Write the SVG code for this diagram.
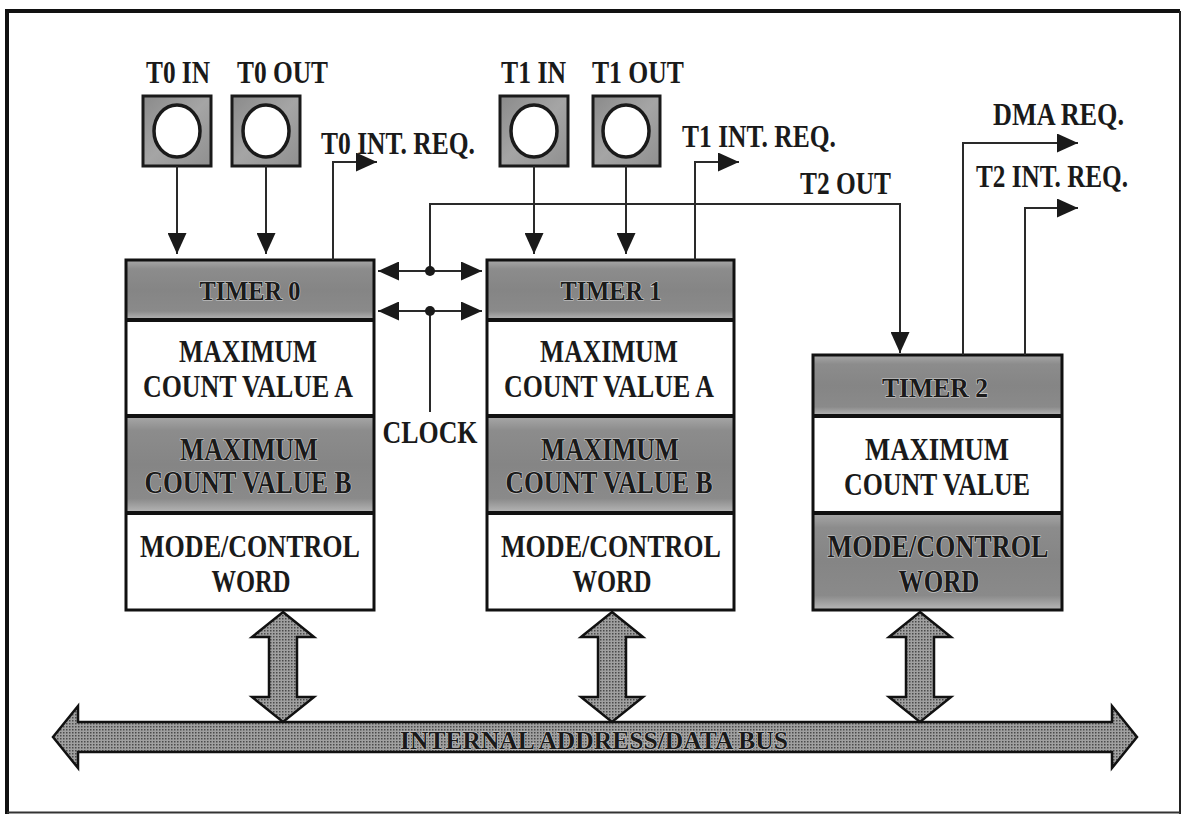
<svg xmlns="http://www.w3.org/2000/svg" width="1183" height="814" viewBox="0 0 1183 814">
<style>
  .t { font-family: "Liberation Serif", "Times New Roman", serif; font-weight: bold; font-size: 31px; fill: #1a1a1a; }
  .hd { font-size: 27px; }
  .sh { stroke: #cfcfcf; stroke-width: 1.2px; paint-order: stroke; }
  .wire { fill: none; stroke: #2a2a2a; stroke-width: 2; }
  .blk { fill: none; stroke: #111; stroke-width: 3; }
  .sep { stroke: #111; stroke-width: 4; }
  .shade { fill: url(#gshade); }
  .white { fill: #ffffff; }
  .pin { fill: url(#gpin); stroke: #1a1a1a; stroke-width: 3; }
  .hole { fill: #ffffff; stroke: #1a1a1a; stroke-width: 3.5; }
  .fat { fill: url(#dots); stroke: #111; stroke-width: 2.5; stroke-linejoin: miter; }
</style>
<defs>
  <linearGradient id="gshade" x1="0" y1="0" x2="0" y2="1">
    <stop offset="0" stop-color="#a8a8a8"/>
    <stop offset="0.15" stop-color="#8c8c8c"/>
    <stop offset="0.5" stop-color="#858585"/>
    <stop offset="0.85" stop-color="#8a8a8a"/>
    <stop offset="1" stop-color="#b8b8b8"/>
  </linearGradient>
  <linearGradient id="gpin" x1="0" y1="0" x2="1" y2="1">
    <stop offset="0" stop-color="#8a8a8a"/>
    <stop offset="0.5" stop-color="#a5a5a5"/>
    <stop offset="1" stop-color="#8f8f8f"/>
  </linearGradient>
  <pattern id="dots" width="3" height="3" patternUnits="userSpaceOnUse">
    <rect width="3" height="3" fill="#a0a0a0"/>
    <rect x="0" y="0" width="1.5" height="1.5" fill="#4a4a4a"/>
  </pattern>
  <marker id="ah" markerUnits="userSpaceOnUse" markerWidth="21" markerHeight="19" refX="21" refY="9.5" orient="auto-start-reverse">
    <path d="M0,0 L21,9.5 L0,19 z" fill="#1a1a1a"/>
  </marker>
</defs>

<rect x="0" y="0" width="1183" height="814" fill="#ffffff"/>

<!-- frame -->
<g id="frame">
  <path d="M7,814 L7,11 L1180,11" fill="none" stroke="#111" stroke-width="4"/>
  <path d="M1180,11 L1180,814" fill="none" stroke="#222" stroke-width="2"/>
  <path d="M7,812.5 L1180,812.5" fill="none" stroke="#333" stroke-width="2"/>
</g>

<!-- pins -->
<g id="pin-t0in">
  <rect class="pin" x="143" y="96" width="68" height="70"/>
  <ellipse class="hole" cx="177" cy="131" rx="23" ry="26"/>
  <text class="t" x="146" y="83" textLength="64" lengthAdjust="spacingAndGlyphs">T0 IN</text>
</g>
<g id="pin-t0out">
  <rect class="pin" x="232" y="96" width="68" height="70"/>
  <ellipse class="hole" cx="266" cy="131" rx="23" ry="26"/>
  <text class="t" x="237" y="83" textLength="91" lengthAdjust="spacingAndGlyphs">T0 OUT</text>
</g>
<g id="pin-t1in">
  <rect class="pin" x="500" y="96" width="68" height="70"/>
  <ellipse class="hole" cx="534" cy="131" rx="23" ry="26"/>
  <text class="t" x="501" y="83" textLength="65" lengthAdjust="spacingAndGlyphs">T1 IN</text>
</g>
<g id="pin-t1out">
  <rect class="pin" x="593" y="96" width="67" height="70"/>
  <ellipse class="hole" cx="626" cy="131" rx="23" ry="26"/>
  <text class="t" x="592" y="83" textLength="92" lengthAdjust="spacingAndGlyphs">T1 OUT</text>
</g>

<!-- signal labels -->
<g id="labels">
  <text class="t" x="321" y="154" textLength="154" lengthAdjust="spacingAndGlyphs">T0 INT. REQ.</text>
  <text class="t" x="682" y="147" textLength="154" lengthAdjust="spacingAndGlyphs">T1 INT. REQ.</text>
  <text class="t" x="800" y="194" textLength="91" lengthAdjust="spacingAndGlyphs">T2 OUT</text>
  <text class="t" x="993" y="125" textLength="131" lengthAdjust="spacingAndGlyphs">DMA REQ.</text>
  <text class="t" x="976" y="187" textLength="152" lengthAdjust="spacingAndGlyphs">T2 INT. REQ.</text>
  <text class="t" x="430" y="443" text-anchor="middle" textLength="95" lengthAdjust="spacingAndGlyphs">CLOCK</text>
</g>

<!-- timer 0 -->
<g id="timer0">
  <rect class="shade" x="126" y="260" width="248" height="60"/>
  <rect class="white" x="126" y="320" width="248" height="96"/>
  <rect class="shade" x="126" y="416" width="248" height="97"/>
  <rect class="white" x="126" y="513" width="248" height="97"/>
  <rect class="blk" x="126" y="260" width="248" height="350"/>
  <line class="sep" x1="126" y1="320" x2="374" y2="320"/>
  <line class="sep" x1="126" y1="416" x2="374" y2="416"/>
  <line class="sep" x1="126" y1="513" x2="374" y2="513"/>
  <text class="t hd sh" x="250" y="300" text-anchor="middle" textLength="101" lengthAdjust="spacingAndGlyphs">TIMER 0</text>
  <text class="t" x="248" y="362" text-anchor="middle" textLength="138" lengthAdjust="spacingAndGlyphs">MAXIMUM</text>
  <text class="t" x="248" y="397" text-anchor="middle" textLength="210" lengthAdjust="spacingAndGlyphs">COUNT VALUE A</text>
  <text class="t sh" x="249" y="460" text-anchor="middle" textLength="138" lengthAdjust="spacingAndGlyphs">MAXIMUM</text>
  <text class="t sh" x="248" y="493" text-anchor="middle" textLength="207" lengthAdjust="spacingAndGlyphs">COUNT VALUE B</text>
  <text class="t" x="250" y="557" text-anchor="middle" textLength="220" lengthAdjust="spacingAndGlyphs">MODE/CONTROL</text>
  <text class="t" x="251" y="592" text-anchor="middle" textLength="79" lengthAdjust="spacingAndGlyphs">WORD</text>
</g>

<!-- timer 1 -->
<g id="timer1">
  <rect class="shade" x="487" y="260" width="247" height="60"/>
  <rect class="white" x="487" y="320" width="247" height="96"/>
  <rect class="shade" x="487" y="416" width="247" height="97"/>
  <rect class="white" x="487" y="513" width="247" height="97"/>
  <rect class="blk" x="487" y="260" width="247" height="350"/>
  <line class="sep" x1="487" y1="320" x2="734" y2="320"/>
  <line class="sep" x1="487" y1="416" x2="734" y2="416"/>
  <line class="sep" x1="487" y1="513" x2="734" y2="513"/>
  <text class="t hd sh" x="611" y="300" text-anchor="middle" textLength="101" lengthAdjust="spacingAndGlyphs">TIMER 1</text>
  <text class="t" x="609" y="362" text-anchor="middle" textLength="138" lengthAdjust="spacingAndGlyphs">MAXIMUM</text>
  <text class="t" x="609" y="397" text-anchor="middle" textLength="210" lengthAdjust="spacingAndGlyphs">COUNT VALUE A</text>
  <text class="t sh" x="610" y="460" text-anchor="middle" textLength="138" lengthAdjust="spacingAndGlyphs">MAXIMUM</text>
  <text class="t sh" x="609" y="493" text-anchor="middle" textLength="207" lengthAdjust="spacingAndGlyphs">COUNT VALUE B</text>
  <text class="t" x="611" y="557" text-anchor="middle" textLength="220" lengthAdjust="spacingAndGlyphs">MODE/CONTROL</text>
  <text class="t" x="612" y="592" text-anchor="middle" textLength="79" lengthAdjust="spacingAndGlyphs">WORD</text>
</g>

<!-- timer 2 -->
<g id="timer2">
  <rect class="shade" x="813" y="355" width="249" height="61"/>
  <rect class="white" x="813" y="416" width="249" height="97"/>
  <rect class="shade" x="813" y="513" width="249" height="97"/>
  <rect class="blk" x="813" y="355" width="249" height="255"/>
  <line class="sep" x1="813" y1="416" x2="1062" y2="416"/>
  <line class="sep" x1="813" y1="513" x2="1062" y2="513"/>
  <text class="t hd sh" x="935" y="397" text-anchor="middle" textLength="106" lengthAdjust="spacingAndGlyphs">TIMER 2</text>
  <text class="t" x="937" y="460" text-anchor="middle" textLength="144" lengthAdjust="spacingAndGlyphs">MAXIMUM</text>
  <text class="t" x="937" y="495" text-anchor="middle" textLength="186" lengthAdjust="spacingAndGlyphs">COUNT VALUE</text>
  <text class="t sh" x="938" y="557" text-anchor="middle" textLength="221" lengthAdjust="spacingAndGlyphs">MODE/CONTROL</text>
  <text class="t sh" x="939" y="592" text-anchor="middle" textLength="81" lengthAdjust="spacingAndGlyphs">WORD</text>
</g>

<!-- internal bus -->
<g id="bus">
  <polygon class="fat" points="53,737 78,706 78,722 1112,722 1112,706 1137,737 1112,768 1112,752 78,752 78,768"/>
  <text class="t sh" x="594" y="749" text-anchor="middle" textLength="388" lengthAdjust="spacingAndGlyphs" style="font-size:26px">INTERNAL ADDRESS/DATA BUS</text>
</g>

<!-- connectors -->
<g id="connectors">
  <line class="wire" x1="177" y1="166" x2="177" y2="254" marker-end="url(#ah)"/>
  <line class="wire" x1="266" y1="166" x2="266" y2="254" marker-end="url(#ah)"/>
  <line class="wire" x1="534" y1="166" x2="534" y2="254" marker-end="url(#ah)"/>
  <line class="wire" x1="626" y1="166" x2="626" y2="254" marker-end="url(#ah)"/>
  <polyline class="wire" points="333,260 333,162 377,162" marker-end="url(#ah)"/>
  <polyline class="wire" points="695,260 695,162 739,162" marker-end="url(#ah)"/>
  <polyline class="wire" points="430,271 430,204 900,204 900,353" marker-end="url(#ah)"/>
  <polyline class="wire" points="963,355 963,143 1078,143" marker-end="url(#ah)"/>
  <polyline class="wire" points="1025,355 1025,208 1078,208" marker-end="url(#ah)"/>
  <line class="wire" x1="378" y1="271" x2="482" y2="271" marker-start="url(#ah)" marker-end="url(#ah)"/>
  <line class="wire" x1="378" y1="311" x2="482" y2="311" marker-start="url(#ah)" marker-end="url(#ah)"/>
  <line class="wire" x1="430" y1="311" x2="430" y2="412"/>
  <circle cx="430" cy="271" r="5" fill="#1a1a1a"/>
  <circle cx="430" cy="311" r="5" fill="#1a1a1a"/>
  <polygon class="fat" points="283,612 314,637 297,637 297,697 314,697 283,722 252,697 269,697 269,637 252,637"/>
  <polygon class="fat" points="612,612 643,637 626,637 626,697 643,697 612,722 581,697 598,697 598,637 581,637"/>
  <polygon class="fat" points="920,612 951,637 934,637 934,697 951,697 920,722 889,697 906,697 906,637 889,637"/>
</g>
</svg>
